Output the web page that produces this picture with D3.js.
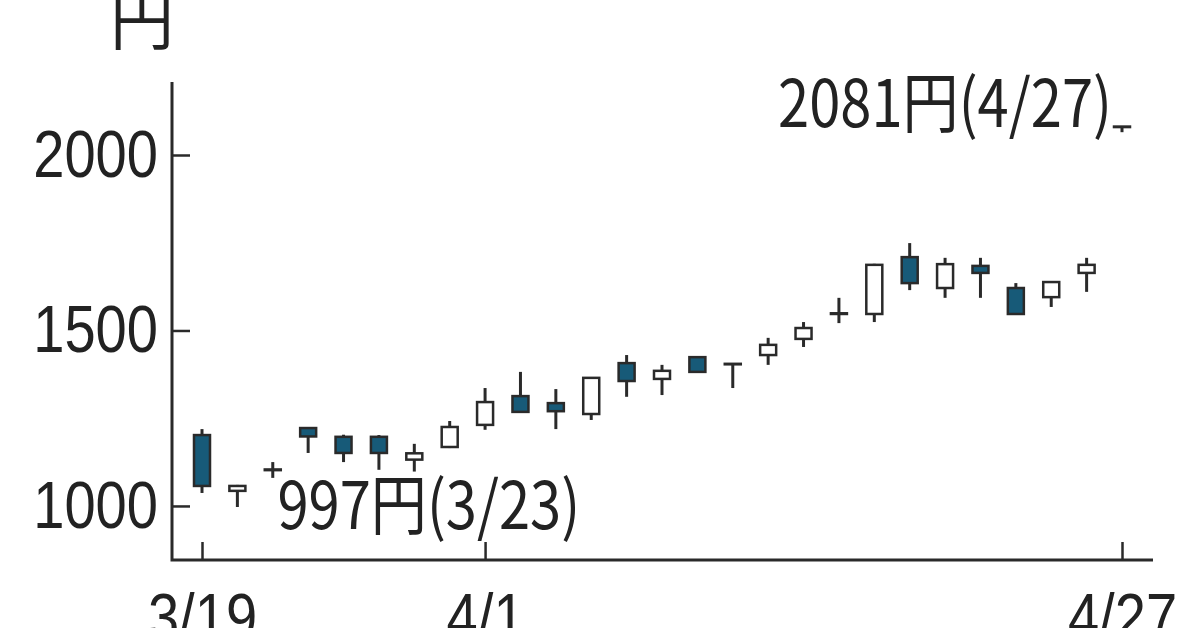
<!DOCTYPE html>
<html>
<head>
	<meta charset="utf-8">
	<title></title>
	<style>
		body { margin: 0; background: #fff; }
		text { font-family: "Liberation Sans Narrow", "Noto Sans CJK JP", sans-serif; fill: #222; }
	</style>
</head>
<body>
	<svg id="container" width="1200" height="628"></svg>
</body>
<script type="text/javascript" src="https://cdn.jsdelivr.net/npm/d3@7/dist/d3.min.js"></script>
<script>
	// trading days, 3/19 to 4/27
	let dates = ["3/19","3/23","3/24","3/25","3/26","3/27","3/30","3/31","4/1","4/2","4/3","4/6","4/7","4/8","4/9","4/10","4/13","4/14","4/15","4/16","4/17","4/20","4/21","4/22","4/23","4/24","4/27"]
	let opens  = [1202,1043,1102,1222,1197,1197,1132,1168,1231,1313,1293,1262,1407,1362,1424,1405,1430,1476,1547,1547,1709,1621,1684,1621,1595,1664,2081]
	let highs  = [1219,1060,1125,1224,1203,1202,1177,1242,1336,1382,1333,1365,1430,1402,1427,1406,1479,1524,1593,1690,1749,1707,1707,1635,1640,1707,2081]
	let lows   = [1037, 997,1080,1151,1125,1103,1098,1165,1217,1265,1219,1245,1311,1316,1380,1336,1402,1453,1521,1524,1615,1593,1593,1547,1567,1610,2065]
	let closes = [1057,1057,1104,1198,1151,1151,1150,1225,1296,1268,1270,1365,1356,1385,1382,1405,1459,1507,1549,1687,1635,1689,1664,1547,1638,1687,2081]
	let xTicks = ["3/19","4/1","4/27"]
	let yTicks = [1000,1500,2000]
	let unitLabel = "円"
	let lowNote = {date: "3/23", value: 997, text: "997円(3/23)"}
	let highNote = {date: "4/27", value: 2081, text: "2081円(4/27)"}

	let candles = dates.map((d, i) => ({date: d, o: opens[i], h: highs[i], l: lows[i], c: closes[i]}))

	let svg = d3.select("#container")
	let plotLeft = 172, plotRight = 1153, plotTop = 82, plotBottom = 560
	let dark = "#175a78", ink = "#2a2a2a"

	// the original lettering is a narrow face, so squeeze texts a bit
	function squeeze(sel, k) {
		sel.each(function () {
			let w = this.getComputedTextLength()
			d3.select(this).attr("textLength", w * k).attr("lengthAdjust", "spacingAndGlyphs")
		})
	}

	let x = d3.scalePoint()
			.domain(dates)
			.range([202, 1122])
	let y = d3.scaleLinear()
			.domain([846, 2208])
			.range([plotBottom, plotTop])

	// axes - ticks point inward
	svg.append("g")
		.attr("transform", `translate(${plotLeft},0)`)
		.call(d3.axisLeft(y).tickValues(yTicks).tickFormat(d3.format("d")).tickSize(-18).tickPadding(14))
	svg.append("g")
		.attr("transform", `translate(0,${plotBottom})`)
		.call(d3.axisBottom(x).tickValues(xTicks).tickSize(-18).tickPadding(33))
	svg.selectAll(".domain").remove()
	svg.selectAll(".tick line").attr("stroke", ink).attr("stroke-width", 2.5)
	svg.selectAll(".tick text").attr("font-size", 66).attr("fill", "#222")
		.style("font-family", "'Liberation Sans Narrow', sans-serif")
		.call(squeeze, 0.85)

	svg.append("path")
		.attr("d", `M${plotLeft},${plotTop}V${plotBottom}H${plotRight}`)
		.attr("fill", "none")
		.attr("stroke", ink)
		.attr("stroke-width", 3)

	// unit label up top, partly cut by the edge
	svg.append("text")
		.attr("x", 142).attr("y", 44)
		.attr("text-anchor", "middle")
		.attr("font-size", 64)
		.text(unitLabel)

	// wicks
	svg.selectAll(".wick")
		.data(candles)
		.enter()
		.append("line")
		.attr("x1", d => x(d.date)).attr("x2", d => x(d.date))
		.attr("y1", d => y(d.h)).attr("y2", d => y(d.l))
		.attr("stroke", ink)
		.attr("stroke-width", 3)

	// bodies, white when it closed up (min height so a doji still shows its bar)
	let bw = 16
	svg.selectAll(".body")
		.data(candles)
		.enter()
		.append("rect")
		.attr("x", d => x(d.date) - bw / 2)
		.attr("width", bw)
		.attr("y", d => y(Math.max(d.o, d.c)))
		.attr("height", d => Math.max(Math.abs(y(d.o) - y(d.c)), 0.5))
		.attr("fill", d => d.c >= d.o ? "#fff" : dark)
		.attr("stroke", ink)
		.attr("stroke-width", 2.5)

	// low / high notes
	svg.append("text")
		.attr("x", x(lowNote.date) + 40)
		.attr("y", y(lowNote.value) + 22)
		.attr("font-size", 66)
		.text(lowNote.text)
		.call(squeeze, 0.85)
	svg.append("text")
		.attr("x", x(highNote.date) - 10)
		.attr("y", y(highNote.value))
		.attr("text-anchor", "end")
		.attr("font-size", 66)
		.text(highNote.text)
		.call(squeeze, 0.85)
</script>
</html>
